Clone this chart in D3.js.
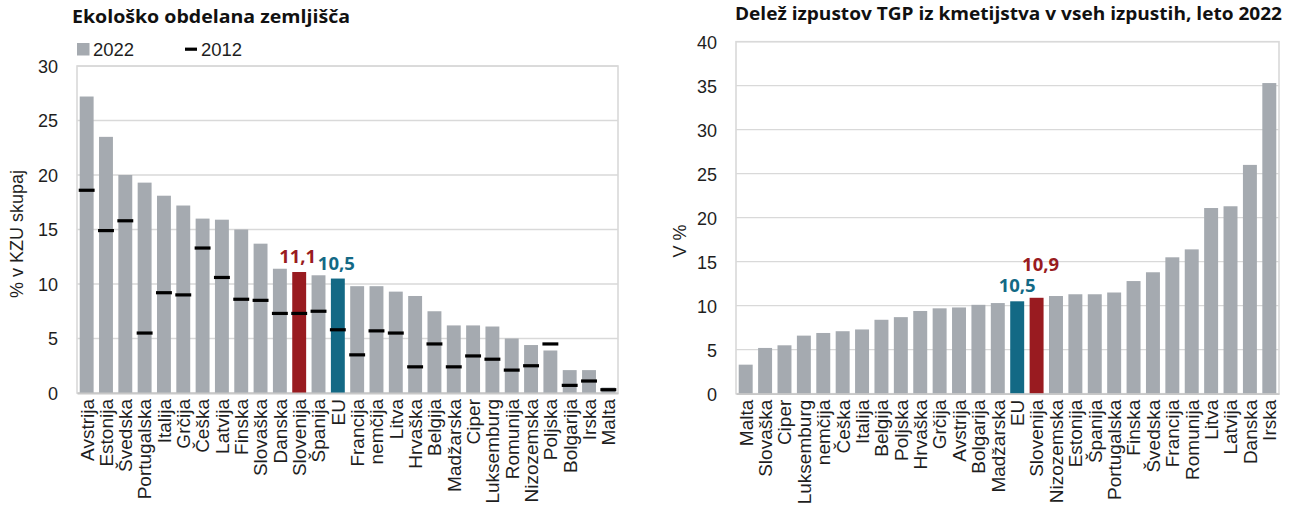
<!DOCTYPE html>
<html>
<head>
<meta charset="utf-8">
<script src="https://cdn.jsdelivr.net/npm/d3@7"></script>
<style>
  html, body { margin: 0; padding: 0; background: #fff; }
  svg { display: block; }
</style>
</head>
<body>
<svg id="chart" width="1295" height="508"></svg>
<script>
// Organic farmland share (left panel)
const organicCountries = ["Avstrija","Estonija","Švedska","Portugalska","Italija","Grčija","Češka","Latvija","Finska","Slovaška","Danska","Slovenija","Španija","EU","Francija","nemčija","Litva","Hrvaška","Belgija","Madžarska","Ciper","Luksemburg","Romunija","Nizozemska","Poljska","Bolgarija","Irska","Malta"];
const organic2022 = [27.2,23.5,20.0,19.3,18.1,17.2,16.0,15.9,15.0,13.7,11.4,11.1,10.8,10.5,9.8,9.8,9.3,8.9,7.5,6.2,6.2,6.1,5.0,4.4,3.9,2.1,2.1,0.5];
const organic2012 = [18.6,14.9,15.8,5.5,9.2,9.0,13.3,10.6,8.6,8.5,7.3,7.3,7.5,5.8,3.5,5.7,5.5,2.4,4.5,2.4,3.4,3.1,2.1,2.5,4.5,0.7,1.1,0.3];
const organicTicks = [0,5,10,15,20,25,30];

// Agricultural share of total GHG emissions, 2022 (right panel)
const ghgCountries = ["Malta","Slovaška","Ciper","Luksemburg","nemčija","Češka","Italija","Belgija","Poljska","Hrvaška","Grčija","Avstrija","Bolgarija","Madžarska","EU","Slovenija","Nizozemska","Estonija","Španija","Portugalska","Finska","Švedska","Francija","Romunija","Litva","Latvija","Danska","Irska"];
const ghgShare = [3.3,5.2,5.5,6.6,6.9,7.1,7.3,8.4,8.7,9.4,9.7,9.8,10.1,10.3,10.5,10.9,11.1,11.3,11.3,11.5,12.8,13.8,15.5,16.4,21.1,21.3,26.0,35.3];
const ghgTicks = [0,5,10,15,20,25,30,35,40];

const GRAY = "#a5aab0", RED = "#991b20", TEAL = "#136985";
const GRID = "#d9d9d9";
const TICK_FONT = '"Liberation Sans", Arial, sans-serif';
const TITLE_FONT = '"Open Sans", "DejaVu Sans", sans-serif';
const TEXT = "#1e1e1e";

const svg = d3.select("#chart");

function barColor(name) {
  if (name === "Slovenija") return RED;
  if (name === "EU") return TEAL;
  return GRAY;
}

function panel(opts) {
  const { left, right, top, bottom, cats, vals, ticks, ymax } = opts;
  const g = svg.append("g");
  const x = d3.scaleBand().domain(cats).range([left, right]).paddingInner(0.28).paddingOuter(0.14);
  const y = d3.scaleLinear().domain([0, ymax]).range([bottom, top]);

  // gridlines
  g.append("g").selectAll("line").data(ticks).join("line")
    .attr("x1", left).attr("x2", right)
    .attr("y1", d => y(d)).attr("y2", d => y(d))
    .attr("stroke", GRID).attr("stroke-width", 1.3);
  // frame
  g.append("rect").attr("x", left).attr("y", top)
    .attr("width", right - left).attr("height", bottom - top)
    .attr("fill", "none").attr("stroke", GRID).attr("stroke-width", 1.6);

  // bars
  g.append("g").selectAll("rect").data(cats).join("rect")
    .attr("x", d => x(d)).attr("width", x.bandwidth())
    .attr("y", (d, i) => y(vals[i]))
    .attr("height", (d, i) => y(0) - y(vals[i]))
    .attr("fill", d => barColor(d));

  // y axis
  const yAxis = d3.axisLeft(y).tickValues(ticks).tickSize(0).tickPadding(0);
  const ya = g.append("g").attr("transform", `translate(${left - 19},0)`).call(yAxis);
  ya.select(".domain").remove();
  ya.selectAll("text").attr("font-size", 18).attr("fill", TEXT)
    .attr("font-family", TICK_FONT).attr("dy", "0.35em");

  // x axis (rotated category labels)
  const xAxis = d3.axisBottom(x).tickSize(0).tickPadding(0);
  const xa = g.append("g").attr("transform", `translate(0,${bottom})`).call(xAxis);
  xa.select(".domain").attr("stroke", "#c8c8c8").attr("stroke-width", 1.8);
  xa.selectAll("text")
    .attr("font-size", 19).attr("fill", TEXT).attr("font-family", TICK_FONT)
    .attr("text-anchor", "end")
    .attr("transform", "rotate(-90)")
    .attr("x", -6).attr("y", 0).attr("dy", "0.36em");

  return { g, x, y };
}

function fmt(v) { return v.toFixed(1).replace(".", ","); }

// ---------- left panel ----------
const L = panel({ left: 77, right: 618, top: 66, bottom: 393,
  cats: organicCountries, vals: organic2022, ticks: organicTicks, ymax: 30 });

// 2012 markers
L.g.append("g").selectAll("rect").data(organicCountries).join("rect")
  .attr("x", d => L.x(d) - 1).attr("width", L.x.bandwidth() + 2)
  .attr("y", (d, i) => L.y(organic2012[i]) - 1.6).attr("height", 3.2)
  .attr("fill", "#000");

// value labels
[["Slovenija", RED, -1.5], ["EU", TEAL, -1.5]].forEach(([name, col, dx]) => {
  const i = organicCountries.indexOf(name);
  L.g.append("text")
    .attr("x", L.x(name) + L.x.bandwidth() / 2 + dx)
    .attr("y", L.y(organic2022[i]) - 9)
    .attr("text-anchor", "middle")
    .attr("font-family", TITLE_FONT).attr("font-weight", 700).attr("font-size", 18.5)
    .attr("fill", col).text(fmt(organic2022[i]));
});

// title
svg.append("text").attr("x", 72).attr("y", 23)
  .attr("font-family", TITLE_FONT).attr("font-weight", 700).attr("font-size", 17)
  .attr("textLength", 278).attr("lengthAdjust", "spacingAndGlyphs")
  .attr("fill", "#111").text("Ekološko obdelana zemljišča");

// legend
svg.append("rect").attr("x", 77).attr("y", 43).attr("width", 12.5).attr("height", 12.5).attr("fill", GRAY);
svg.append("text").attr("x", 93).attr("y", 56).attr("font-family", TICK_FONT)
  .attr("font-size", 18.5).attr("fill", TEXT).text("2022");
svg.append("rect").attr("x", 185).attr("y", 47.6).attr("width", 12).attr("height", 3.2).attr("fill", "#000");
svg.append("text").attr("x", 201).attr("y", 56).attr("font-family", TICK_FONT)
  .attr("font-size", 18.5).attr("fill", TEXT).text("2012");

// y axis title
svg.append("text").attr("transform", "translate(23,234) rotate(-90)")
  .attr("text-anchor", "middle").attr("font-family", TICK_FONT).attr("font-size", 18)
  .attr("fill", TEXT).text("% v KZU skupaj");

// ---------- right panel ----------
const R = panel({ left: 736, right: 1279, top: 41.7, bottom: 393.7,
  cats: ghgCountries, vals: ghgShare, ticks: ghgTicks, ymax: 40 });

[["EU", TEAL, 0, 0], ["Slovenija", RED, 4, -18]].forEach(([name, col, dx, dy]) => {
  const i = ghgCountries.indexOf(name);
  R.g.append("text")
    .attr("x", R.x(name) + R.x.bandwidth() / 2 + dx)
    .attr("y", R.y(ghgShare[i]) - 9 + dy)
    .attr("text-anchor", "middle")
    .attr("font-family", TITLE_FONT).attr("font-weight", 700).attr("font-size", 18.5)
    .attr("fill", col).text(fmt(ghgShare[i]));
});

svg.append("text").attr("x", 735).attr("y", 20)
  .attr("font-family", TITLE_FONT).attr("font-weight", 700).attr("font-size", 17)
  .attr("textLength", 547).attr("lengthAdjust", "spacingAndGlyphs")
  .attr("fill", "#111").text("Delež izpustov TGP iz kmetijstva v vseh izpustih, leto 2022");

svg.append("text").attr("transform", "translate(686,241) rotate(-90)")
  .attr("text-anchor", "middle").attr("font-family", TICK_FONT).attr("font-size", 18)
  .attr("fill", TEXT).text("V %");
</script>
</body>
</html>
